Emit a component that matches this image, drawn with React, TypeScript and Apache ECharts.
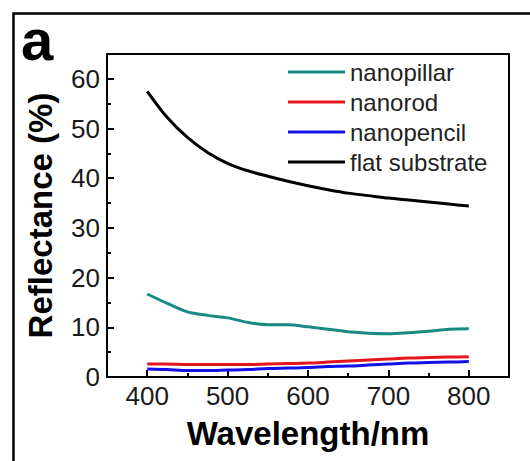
import React, { useEffect, useRef } from "react";
import * as echarts from "echarts";

const wavelengths = [400, 425, 450, 475, 500, 525, 550, 575, 600, 625, 650, 675, 700, 725, 750, 775, 800];
const nanopillar = [16.7, 14.8, 13.1, 12.4, 11.9, 11.0, 10.5, 10.5, 10.1, 9.6, 9.1, 8.8, 8.7, 8.9, 9.2, 9.6, 9.7];
const nanorod = [2.6, 2.6, 2.5, 2.5, 2.5, 2.5, 2.6, 2.7, 2.8, 3.0, 3.2, 3.4, 3.6, 3.8, 3.9, 4.0, 4.1];
const nanopencil = [1.6, 1.5, 1.3, 1.3, 1.4, 1.5, 1.7, 1.8, 1.9, 2.1, 2.2, 2.4, 2.6, 2.8, 2.9, 3.0, 3.1];
const flatSubstrate = [57.5, 52.2, 48.2, 45.2, 43.0, 41.5, 40.4, 39.4, 38.5, 37.7, 37.0, 36.5, 36.0, 35.6, 35.2, 34.8, 34.4];

const xLabels = [400, 500, 600, 700, 800];
const xMinorTicks = [450, 550, 650, 750];
const yLabels = [0, 10, 20, 30, 40, 50, 60];
const yMajorTicks = [10, 20, 30, 40, 50, 60];
const yMinorTicks = [5, 15, 25, 35, 45, 55];

const seriesNames = ["nanopillar", "nanorod", "nanopencil", "flat substrate"];
const seriesColors = ["#178a84", "#e3151d", "#1212e6", "#000000"];
const seriesValues = [nanopillar, nanorod, nanopencil, flatSubstrate];

const FONT = "Liberation Sans, Arial, sans-serif";

export default function App() {
  const ref = useRef<HTMLDivElement>(null);
  useEffect(() => {
    if (!ref.current) return;
    const chart = echarts.init(ref.current, null, { renderer: "svg" });
    const axisBase = {
      type: "value" as const,
      splitLine: { show: false },
    };
    chart.setOption({
      animation: false,
      backgroundColor: "#ffffff",
      grid: {
        left: 107,
        top: 54,
        right: 21,
        bottom: 84,
        show: true,
        borderColor: "#000",
        borderWidth: 2,
        backgroundColor: "transparent",
      },
      legend: {
        orient: "vertical",
        left: 283,
        top: 55,
        itemWidth: 57,
        itemHeight: 3,
        itemGap: 6,
        icon: "rect",
        textStyle: { fontSize: 24, color: "#222", fontFamily: FONT },
        data: seriesNames,
      },
      xAxis: [
        {
          ...axisBase,
          min: 350,
          max: 850,
          interval: 50,
          position: "bottom",
          axisLine: { show: true, lineStyle: { color: "#000", width: 2 } },
          axisTick: { show: true, inside: true, length: 7, customValues: xLabels, lineStyle: { color: "#000", width: 2 } },
          axisLabel: { show: true, customValues: xLabels, fontSize: 26, color: "#1a1a1a", fontFamily: FONT, margin: 6 },
          name: "Wavelength/nm",
          nameLocation: "middle",
          nameGap: 40,
          nameTextStyle: { fontSize: 33, fontWeight: "bold", color: "#000", fontFamily: FONT },
        },
        {
          ...axisBase,
          min: 350,
          max: 850,
          interval: 50,
          position: "bottom",
          axisLine: { show: false },
          axisTick: { show: true, inside: true, length: 4, customValues: xMinorTicks, lineStyle: { color: "#000", width: 2 } },
          axisLabel: { show: false },
        },
      ],
      yAxis: [
        {
          ...axisBase,
          min: 0,
          max: 65,
          interval: 5,
          position: "left",
          axisLine: { show: true, lineStyle: { color: "#000", width: 2 } },
          axisTick: { show: true, inside: true, length: 7, customValues: yMajorTicks, lineStyle: { color: "#000", width: 2 } },
          axisLabel: { show: true, customValues: yLabels, fontSize: 26, color: "#1a1a1a", fontFamily: FONT, margin: 7 },
          name: "Reflectance (%)",
          nameLocation: "middle",
          nameRotate: 90,
          nameGap: 50,
          nameTextStyle: { fontSize: 33, fontWeight: "bold", color: "#000", fontFamily: FONT },
        },
        {
          ...axisBase,
          min: 0,
          max: 65,
          interval: 5,
          position: "left",
          axisLine: { show: false },
          axisTick: { show: true, inside: true, length: 4, customValues: yMinorTicks, lineStyle: { color: "#000", width: 2 } },
          axisLabel: { show: false },
        },
      ],
      graphic: [
        {
          type: "rect",
          shape: { x: 13.5, y: 13.5, width: 540, height: 520 },
          style: { fill: "none", stroke: "#000", lineWidth: 2.5 },
          silent: true,
        },
        {
          type: "text",
          left: 21,
          top: 10,
          style: { text: "a", fontSize: 58, fontWeight: "bold", fill: "#000", fontFamily: FONT },
        },
      ],
      series: seriesNames.map((name, i) => ({
        name,
        type: "line",
        xAxisIndex: 0,
        yAxisIndex: 0,
        showSymbol: false,
        symbol: "none",
        smooth: 0.3,
        color: seriesColors[i],
        lineStyle: { color: seriesColors[i], width: 3 },
        data: wavelengths.map((w, j) => [w, seriesValues[i][j]]),
      })),
    });
    return () => chart.dispose();
  }, []);
  return (
    <div
      ref={ref}
      style={{ position: "absolute", left: 0, top: 0, width: 530, height: 461, background: "#fff" }}
    />
  );
}
